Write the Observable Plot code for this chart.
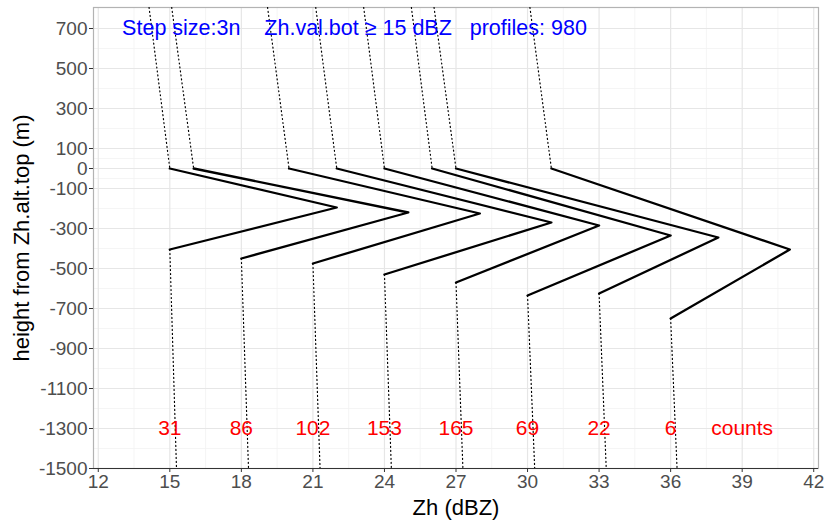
<!DOCTYPE html>
<html><head><meta charset="utf-8">
<script src="https://cdn.jsdelivr.net/npm/d3@7"></script>
<script src="https://cdn.jsdelivr.net/npm/@observablehq/plot@0.6"></script>
<style>
body{margin:0;background:#fff}
#chart g[aria-label="x-axis label"] text, #chart g[aria-label="y-axis label"] text {font-size:22px; fill:#000}
</style></head><body><div id="chart"></div>
<script>
// profile data (Zh in dBZ, height in m relative to Zh.alt.top)
const counts   = [31, 86, 102, 153, 165, 69, 22, 6];
const zhTop    = [15, 16, 20, 22, 24, 26, 27, 31];
const zhPeak   = [22, 25, 28, 31, 33, 36, 38, 41];
const hPeak    = [-195, -220, -225, -270, -285, -335, -345, -405];
const zhBot    = [15, 18, 21, 24, 27, 30, 33, 36];
const hBot     = [-405, -450, -475, -530, -570, -635, -625, -750];
const zhAbove  = [14.13, 15.08, 19.1, 21.12, 23.13, 25.13, 26.08, 30.1];   // at top edge
const zhBelow  = [15.28, 18.3, 21.3, 24.29, 27.29, 30.3, 33.3, 36.27];     // at bottom edge
const hTopEdge = 805;
const hBotEdge = -1500;
// labels
const countLabels = ["31", "86", "102", "153", "165", "69", "22", "6", "counts"];
const countX      = [15, 18, 21, 24, 27, 30, 33, 36, 39];
const countY      = -1300;
const infoText    = "Step size:3n\u00a0\u00a0\u00a0\u00a0Zh.val.bot \u2265 15 dBZ\u00a0\u00a0\u00a0profiles: 980";
const infoX       = 13;
const infoY       = 700;
// axis ticks
const xTicks  = [12, 15, 18, 21, 24, 27, 30, 33, 36, 39, 42];
const xMinor  = [13.5, 16.5, 19.5, 22.5, 25.5, 28.5, 31.5, 34.5, 37.5, 40.5];
const yTicks  = [700, 500, 300, 100, 0, -100, -300, -500, -700, -900, -1100, -1300, -1500];
const yMinor  = [600, 400, 200, 50, -50, -200, -400, -600, -800, -1000, -1200, -1400];

const solid = [], dotted = [];
counts.forEach((c, i) => {
  solid.push({p: i, zh: zhTop[i], h: 0});
  solid.push({p: i, zh: zhPeak[i], h: hPeak[i]});
  solid.push({p: i, zh: zhBot[i], h: hBot[i]});
  dotted.push({s: "u" + i, zh: zhAbove[i], h: hTopEdge});
  dotted.push({s: "u" + i, zh: zhTop[i], h: 0});
  dotted.push({s: "d" + i, zh: zhBot[i], h: hBot[i]});
  dotted.push({s: "d" + i, zh: zhBelow[i], h: hBotEdge});
});
const countRows = countLabels.map((t, i) => ({x: countX[i], y: countY, t}));
const infoRows = [{x: infoX, y: infoY, t: infoText}];
const fmt = d => String(d);

const plot = Plot.plot({
  width: 825, height: 520,
  marginLeft: 93, marginRight: 7, marginTop: 7, marginBottom: 52,
  style: {fontFamily: "'Liberation Sans', Arial, sans-serif", fontSize: "19px", background: "#fff"},
  x: {domain: [11.8, 42.2]},
  y: {domain: [-1500, 805]},
  marks: [
    Plot.gridX(xMinor, {stroke: "#F2F2F2", strokeOpacity: 1, strokeWidth: 0.8}),
    Plot.gridY(yMinor, {stroke: "#F2F2F2", strokeOpacity: 1, strokeWidth: 0.8}),
    Plot.gridX(xTicks, {stroke: "#E6E6E6", strokeOpacity: 1, strokeWidth: 1.2}),
    Plot.gridY(yTicks, {stroke: "#E6E6E6", strokeOpacity: 1, strokeWidth: 1.2}),
    Plot.frame({stroke: "#B3B3B3", strokeWidth: 1.2}),
    Plot.line(dotted, {x: "zh", y: "h", z: "s", stroke: "black", strokeWidth: 1.2, strokeDasharray: "1,3", clip: true}),
    Plot.line(solid, {x: "zh", y: "h", z: "p", stroke: "black", strokeWidth: 2.3}),
    Plot.text(countRows, {x: "x", y: "y", text: "t", fill: "#FF0000", fontSize: 21}),
    Plot.text(infoRows, {x: "x", y: "y", text: "t", fill: "#0000FF", fontSize: 21.5, textAnchor: "start"}),
    Plot.axisX({ticks: xTicks, tickFormat: fmt, tickSize: 4, tickPadding: 2, fill: "#4D4D4D", stroke: "#333",
      label: "Zh (dBZ)", labelAnchor: "center", labelOffset: 46, labelArrow: "none"}),
    Plot.axisY({ticks: yTicks, tickFormat: fmt, tickSize: 4, tickPadding: 2, fill: "#4D4D4D", stroke: "#333",
      label: "height from Zh.alt.top (m)", labelAnchor: "center", labelOffset: 80, labelArrow: "none"}),
    Plot.ruleY([hBotEdge], {stroke: "#333", strokeWidth: 1.2})
  ]
});
document.getElementById("chart").appendChild(plot);
</script></body></html>
